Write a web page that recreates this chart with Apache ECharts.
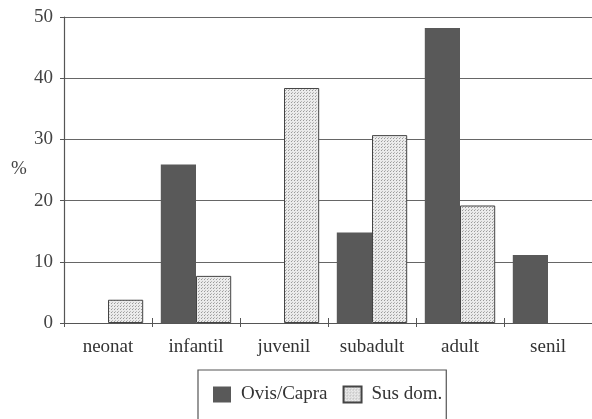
<!DOCTYPE html>
<html><head><meta charset="utf-8">
<script src="https://cdn.jsdelivr.net/npm/echarts@6/dist/echarts.min.js"></script>
<style>html,body{margin:0;padding:0;background:#fff}#c{width:592px;height:419px}</style>
</head><body><div id="c"></div>
<script>
const categories = ['neonat', 'infantil', 'juvenil', 'subadult', 'adult', 'senil'];
const ovisCapra = [null, 25.9, null, 14.8, 48.2, 11.1];
const susDom = [3.8, 7.7, 38.4, 30.7, 19.2, null];
const seriesNames = ['Ovis/Capra', 'Sus dom.'];

function dotPattern() {
  const c = document.createElement('canvas');
  c.width = 3; c.height = 3;
  const g = c.getContext('2d');
  g.fillStyle = '#ebebeb'; g.fillRect(0, 0, 3, 3);
  g.fillStyle = '#9a9a9a';
  g.fillRect(0, 0, 1, 1);
  g.fillStyle = '#b8b8b8';
  g.fillRect(1, 2, 1, 1);
  return c;
}
const pat = { image: dotPattern(), repeat: 'repeat' };
const font = '"Liberation Serif", "DejaVu Serif", serif';

const chart = echarts.init(document.getElementById('c'), null, { renderer: 'canvas' });
chart.setOption({
  animation: false,
  backgroundColor: '#fff',
  grid: { left: 64, right: 0, top: 17, bottom: 96 },
  xAxis: [{
    type: 'category', data: categories,
    axisLine: { lineStyle: { color: '#555', width: 1.2 } },
    axisTick: { show: true, length: 4, lineStyle: { color: '#555' } },
    axisLabel: { margin: 15, color: '#333', fontFamily: font, fontSize: 19 }
  }, {
    type: 'category', data: categories, position: 'bottom',
    axisLine: { show: false },
    axisTick: { show: true, inside: true, length: 5, lineStyle: { color: '#555' } },
    axisLabel: { show: false }
  }],
  yAxis: {
    type: 'value', min: 0, max: 50, interval: 10,
    axisLine: { show: true, lineStyle: { color: '#555', width: 1.2 } },
    axisTick: { show: true, length: 4, lineStyle: { color: '#555' } },
    splitLine: { lineStyle: { color: '#666', width: 1.2 } },
    axisLabel: { margin: 11, color: '#444', fontFamily: font, fontSize: 19 }
  },
  legend: {
    left: 198, top: 370,
    data: seriesNames,
    icon: 'rect',
    itemWidth: 18, itemHeight: 16, itemGap: 15,
    padding: [15, 4, 30, 15],
    borderColor: '#555', borderWidth: 1.2, borderRadius: 0,
    backgroundColor: '#fff',
    textStyle: { fontFamily: font, fontSize: 19, color: '#333', padding: [0, 0, 0, 5] }
  },
  graphic: [{
    type: 'text', left: 11, top: 160,
    style: { text: '%', font: '19px ' + font, fill: '#444' }
  }],
  series: [{
    name: seriesNames[0], type: 'bar', data: ovisCapra,
    barGap: '0%', barCategoryGap: '20%',
    itemStyle: { color: '#595959' }
  }, {
    name: seriesNames[1], type: 'bar', data: susDom,
    barGap: '0%', barCategoryGap: '20%',
    itemStyle: { color: pat, borderColor: '#444', borderWidth: 1 }
  }]
});
</script></body></html>
